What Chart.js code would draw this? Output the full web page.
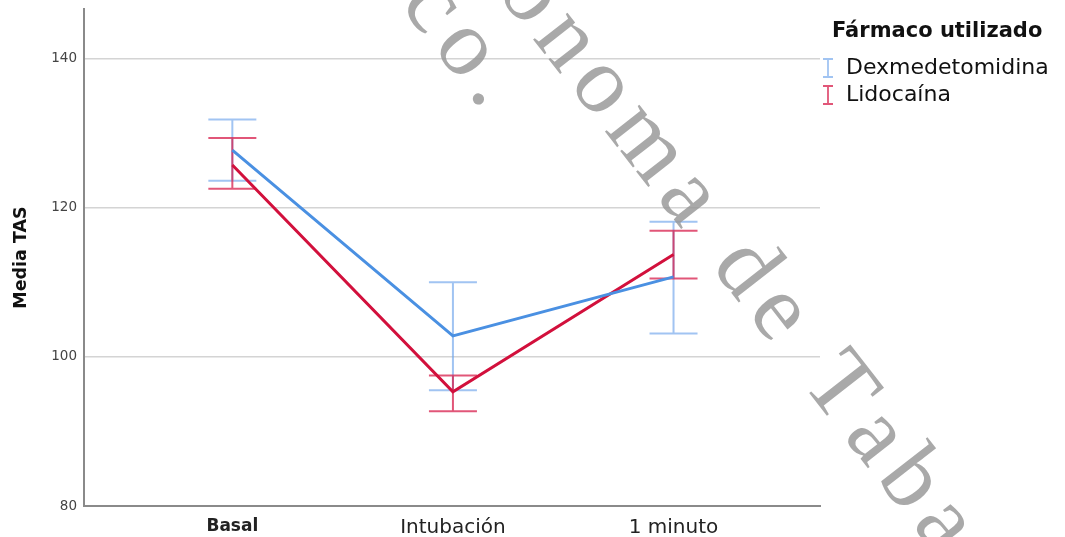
<!DOCTYPE html>
<html>
<head>
<meta charset="utf-8">
<script src="https://cdn.jsdelivr.net/npm/chart.js@4"></script>
<style>
  html, body { margin: 0; padding: 0; background: #ffffff; }
  #wrap { position: relative; width: 1065px; height: 537px; }
</style>
</head>
<body>
<div id="wrap"><canvas id="c" width="1065" height="537"></canvas></div>
<script>
// Momentos de medición
const categories = ['Basal', 'Intubación', '1 minuto'];
const yTicks = [80, 100, 120, 140];

// Media de TAS y límites de la barra de error por grupo
const dexMean  = [127.7, 102.8, 110.7];
const dexLow   = [123.6, 95.5, 103.1];
const dexHigh  = [131.8, 110.0, 118.1];

const lidoMean = [125.7, 95.3, 113.7];
const lidoLow  = [122.5, 92.7, 110.5];
const lidoHigh = [129.3, 97.5, 116.9];

const seriesNames = ['Dexmedetomidina', 'Lidocaína'];
const legendTitle = 'Fármaco utilizado';
const watermarkLines = ['Universidad Juárez Autónoma de Tabasco.', 'México.'];

const BLUE = '#4a90e2', BLUE_BAR = 'rgba(110,165,235,0.65)';
const RED = '#d2103c', RED_BAR = 'rgba(215,30,75,0.75)';
const FONT = '"DejaVu Sans", sans-serif';

const toPoints = arr => arr.map((v, i) => ({ x: i, y: v }));

// Barras de error (bigotes con remate)
const errorBars = {
  id: 'errorBars',
  beforeDatasetsDraw(chart) {
    const { ctx, scales: { x, y } } = chart;
    const groups = [
      { lo: dexLow, hi: dexHigh, color: BLUE_BAR },
      { lo: lidoLow, hi: lidoHigh, color: RED_BAR }
    ];
    ctx.save();
    ctx.lineWidth = 2;
    groups.forEach(g => {
      ctx.strokeStyle = g.color;
      g.lo.forEach((lo, i) => {
        const px = x.getPixelForValue(i);
        const y1 = y.getPixelForValue(lo), y2 = y.getPixelForValue(g.hi[i]);
        ctx.beginPath();
        ctx.moveTo(px, y1); ctx.lineTo(px, y2);
        ctx.moveTo(px - 24, y1); ctx.lineTo(px + 24, y1);
        ctx.moveTo(px - 24, y2); ctx.lineTo(px + 24, y2);
        ctx.stroke();
      });
    });
    ctx.restore();
  }
};

// Leyenda a la derecha con símbolo de barra de error
const sideLegend = {
  id: 'sideLegend',
  afterDraw(chart) {
    const { ctx } = chart;
    ctx.save();
    ctx.fillStyle = '#111';
    ctx.textBaseline = 'middle';
    ctx.font = 'bold 21px ' + FONT;
    ctx.fillText(legendTitle, 832, 32);
    ctx.font = '22px ' + FONT;
    const colors = [BLUE_BAR, RED_BAR];
    seriesNames.forEach((name, i) => {
      const cy = 68 + i * 27;
      ctx.strokeStyle = colors[i];
      ctx.lineWidth = 1.8;
      ctx.beginPath();
      ctx.moveTo(828, cy - 9); ctx.lineTo(828, cy + 9);
      ctx.moveTo(823, cy - 9); ctx.lineTo(833, cy - 9);
      ctx.moveTo(823, cy + 9); ctx.lineTo(833, cy + 9);
      ctx.stroke();
      ctx.fillStyle = '#111';
      ctx.fillText(name, 846, cy);
    });
    ctx.restore();
  }
};

// Marca de agua diagonal, dibujada letra por letra con espaciado
const watermark = {
  id: 'watermark',
  afterDraw(chart) {
    const { ctx } = chart;
    const ls = 11;
    ctx.save();
    ctx.translate(800.3, 381.5);
    ctx.rotate(52 * Math.PI / 180);
    ctx.font = '95px "Liberation Serif", "DejaVu Serif", serif';
    ctx.fillStyle = 'rgba(150,150,150,0.82)';
    ctx.textBaseline = 'alphabetic';
    ctx.textAlign = 'left';
    const adv = s => [...s].reduce((a, ch) => a + ctx.measureText(ch).width + ls, 0);
    const drawRun = (s, x0, y0) => {
      let x = x0;
      for (const ch of s) { ctx.fillText(ch, x, y0); x += ctx.measureText(ch).width + ls; }
    };
    // línea 1: la "T" de Tabasco empieza en el origen
    const line1 = watermarkLines[0];
    const prefix = line1.slice(0, line1.indexOf('Tabasco'));
    drawRun(line1, -adv(prefix), 0);
    // línea 2: termina con el punto
    const line2 = watermarkLines[1];
    const dotW = ctx.measureText('.').width;
    const end = -420.7 - dotW / 2 + dotW + ls;
    drawRun(line2, end - adv(line2), 84);
    ctx.restore();
  }
};

new Chart(document.getElementById('c'), {
  type: 'line',
  data: {
    datasets: [
      { label: seriesNames[0], data: toPoints(dexMean), borderColor: BLUE, borderWidth: 3, pointRadius: 0, tension: 0, fill: false },
      { label: seriesNames[1], data: toPoints(lidoMean), borderColor: RED, borderWidth: 3, pointRadius: 0, tension: 0, fill: false }
    ]
  },
  options: {
    responsive: false,
    animation: false,
    layout: { padding: { left: 0, right: 245, top: 9, bottom: 0 } },
    plugins: { legend: { display: false }, tooltip: { enabled: false } },
    scales: {
      x: {
        type: 'linear',
        min: -0.6725,
        max: 2.664,
        afterFit: s => { s.height = 31; s.paddingLeft = 0; s.paddingRight = 0; },
        afterBuildTicks: s => { s.ticks = categories.map((_, i) => ({ value: i })); },
        grid: { display: false, drawTicks: false },
        border: { display: true, color: '#8a8a8a', width: 2 },
        ticks: {
          padding: 10,
          color: '#222',
          font: c => c.index === 0
            ? { family: FONT, size: 17, weight: 'bold' }
            : { family: FONT, size: 20, weight: 'normal' },
          callback: v => categories[v]
        }
      },
      y: {
        min: 80,
        max: 146.6,
        afterFit: s => { s.width = 84; s.paddingTop = 0; s.paddingBottom = 0; },
        afterBuildTicks: s => { s.ticks = yTicks.map(v => ({ value: v })); },
        grid: { color: c => c.tick && c.tick.value === 80 ? 'rgba(0,0,0,0)' : '#d4d4d4', lineWidth: 1.5, drawTicks: false },
        border: { display: true, color: '#8a8a8a', width: 2 },
        ticks: { padding: 7, color: '#444', font: { family: FONT, size: 13.5 } },
        title: { display: true, text: 'Media TAS', color: '#111', font: { family: FONT, size: 17.5, weight: 'bold' }, padding: { top: 11, bottom: 0 } }
      }
    }
  },
  plugins: [errorBars, sideLegend, watermark]
});
</script>
</body>
</html>
